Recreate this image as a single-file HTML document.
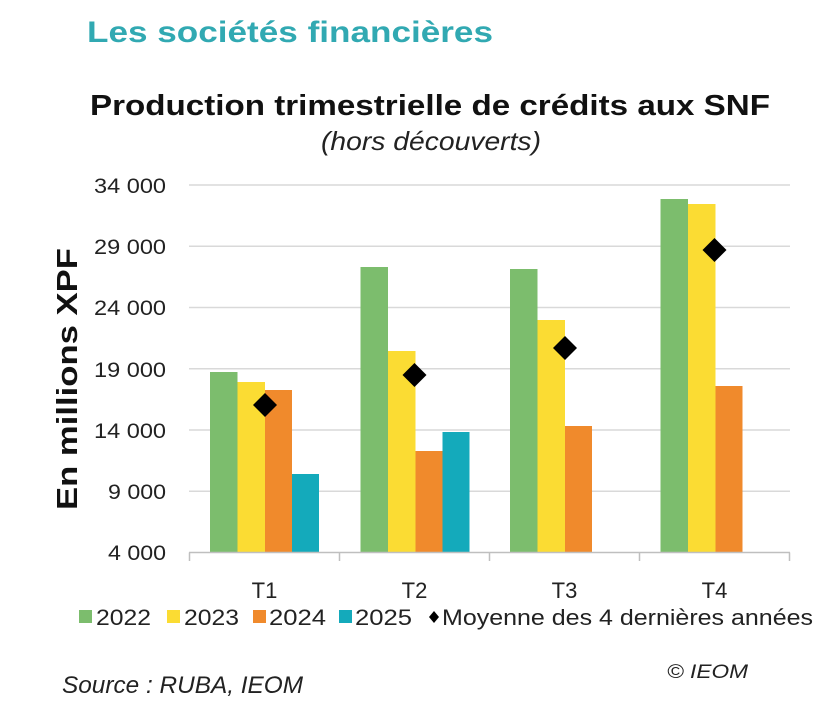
<!DOCTYPE html>
<html>
<head>
<meta charset="utf-8">
<style>
html,body{margin:0;padding:0;background:#fff;}
svg{display:block;}
text{font-family:"Liberation Sans",sans-serif;}
</style>
</head>
<body>
<svg width="835" height="707" viewBox="0 0 835 707" xmlns="http://www.w3.org/2000/svg">
  <rect width="835" height="707" fill="#fff"/>
  <!-- Header -->
  <text x="87" y="42" font-size="30" font-weight="bold" fill="#31a9b2" textLength="406" lengthAdjust="spacingAndGlyphs">Les sociétés financières</text>
  <!-- Title -->
  <text x="90" y="115" font-size="29" font-weight="bold" fill="#111" textLength="680" lengthAdjust="spacingAndGlyphs">Production trimestrielle de crédits aux SNF</text>
  <text x="431" y="150" font-size="26" font-style="italic" fill="#222" text-anchor="middle" textLength="220" lengthAdjust="spacingAndGlyphs">(hors découverts)</text>

  <!-- Gridlines -->
  <g stroke="#d9d9d9" stroke-width="1.5">
    <line x1="189" y1="185" x2="790" y2="185"/>
    <line x1="189" y1="246.25" x2="790" y2="246.25"/>
    <line x1="189" y1="307.5" x2="790" y2="307.5"/>
    <line x1="189" y1="368.75" x2="790" y2="368.75"/>
    <line x1="189" y1="430" x2="790" y2="430"/>
    <line x1="189" y1="491.25" x2="790" y2="491.25"/>
  </g>

  <!-- Y tick labels -->
  <g font-size="21" fill="#222" text-anchor="end">
    <text x="166" y="193" textLength="72" lengthAdjust="spacingAndGlyphs">34 000</text>
    <text x="166" y="254" textLength="72" lengthAdjust="spacingAndGlyphs">29 000</text>
    <text x="166" y="315" textLength="72" lengthAdjust="spacingAndGlyphs">24 000</text>
    <text x="166" y="377" textLength="72" lengthAdjust="spacingAndGlyphs">19 000</text>
    <text x="166" y="438" textLength="72" lengthAdjust="spacingAndGlyphs">14 000</text>
    <text x="166" y="499" textLength="58" lengthAdjust="spacingAndGlyphs">9 000</text>
    <text x="166" y="560" textLength="58" lengthAdjust="spacingAndGlyphs">4 000</text>
  </g>

  <!-- Y axis title -->
  <text transform="translate(77,379) rotate(-90)" font-size="29" font-weight="bold" fill="#111" text-anchor="middle" textLength="262" lengthAdjust="spacingAndGlyphs">En millions XPF</text>

  <!-- Bars -->
  <!-- T1 -->
  <rect x="210" y="372" width="27.5" height="180.5" fill="#7cbd6d"/>
  <rect x="237.5" y="382" width="27.5" height="170.5" fill="#fbdc33"/>
  <rect x="265" y="390" width="27" height="162.5" fill="#f08a2c"/>
  <rect x="292" y="474" width="27" height="78.5" fill="#14aabb"/>
  <!-- T2 -->
  <rect x="360.5" y="267" width="27.5" height="285.5" fill="#7cbd6d"/>
  <rect x="388" y="351" width="27.5" height="201.5" fill="#fbdc33"/>
  <rect x="415.5" y="451" width="27" height="101.5" fill="#f08a2c"/>
  <rect x="442.5" y="432" width="27" height="120.5" fill="#14aabb"/>
  <!-- T3 -->
  <rect x="510" y="269" width="27.5" height="283.5" fill="#7cbd6d"/>
  <rect x="537.5" y="320" width="27.5" height="232.5" fill="#fbdc33"/>
  <rect x="565" y="426" width="27" height="126.5" fill="#f08a2c"/>
  <!-- T4 -->
  <rect x="660.5" y="199" width="27.5" height="353.5" fill="#7cbd6d"/>
  <rect x="688" y="204" width="27.5" height="348.5" fill="#fbdc33"/>
  <rect x="715.5" y="386" width="27" height="166.5" fill="#f08a2c"/>

  <!-- Diamonds -->
  <g fill="#000">
    <polygon points="265,393 277,405 265,417 253,405"/>
    <polygon points="414.5,363 426.5,375 414.5,387 402.5,375"/>
    <polygon points="565,336 577,348 565,360 553,348"/>
    <polygon points="714.5,238 726.5,250 714.5,262 702.5,250"/>
  </g>

  <!-- X axis -->
  <g stroke="#bfbfbf" stroke-width="1.5">
    <line x1="189" y1="552.5" x2="790" y2="552.5"/>
    <line x1="189.5" y1="552.5" x2="189.5" y2="561"/>
    <line x1="339.5" y1="552.5" x2="339.5" y2="561"/>
    <line x1="489.5" y1="552.5" x2="489.5" y2="561"/>
    <line x1="639.5" y1="552.5" x2="639.5" y2="561"/>
    <line x1="789.5" y1="552.5" x2="789.5" y2="561"/>
  </g>
  <g font-size="22" fill="#222" text-anchor="middle">
    <text x="264.5" y="598">T1</text>
    <text x="414.5" y="598">T2</text>
    <text x="564.5" y="598">T3</text>
    <text x="714.5" y="598">T4</text>
  </g>

  <!-- Legend -->
  <rect x="79" y="610" width="13" height="13" fill="#7cbd6d"/>
  <text x="96" y="625" font-size="22" fill="#222" textLength="55" lengthAdjust="spacingAndGlyphs">2022</text>
  <rect x="167" y="610" width="13" height="13" fill="#fbdc33"/>
  <text x="184" y="625" font-size="22" fill="#222" textLength="55" lengthAdjust="spacingAndGlyphs">2023</text>
  <rect x="253" y="610" width="13" height="13" fill="#f08a2c"/>
  <text x="269" y="625" font-size="22" fill="#222" textLength="57" lengthAdjust="spacingAndGlyphs">2024</text>
  <rect x="339" y="610" width="13" height="13" fill="#14aabb"/>
  <text x="355" y="625" font-size="22" fill="#222" textLength="57" lengthAdjust="spacingAndGlyphs">2025</text>
  <polygon points="434,611 439,617 434,623 429,617" fill="#000"/>
  <text x="442" y="625" font-size="22" fill="#222" textLength="371" lengthAdjust="spacingAndGlyphs">Moyenne des 4 dernières années</text>

  <!-- Footer -->
  <text x="62" y="693" font-size="24" font-style="italic" fill="#222" textLength="241" lengthAdjust="spacingAndGlyphs">Source : RUBA, IEOM</text>
  <text x="667" y="678" font-size="19" font-style="italic" fill="#222" textLength="81" lengthAdjust="spacingAndGlyphs">© IEOM</text>
</svg>
</body>
</html>
